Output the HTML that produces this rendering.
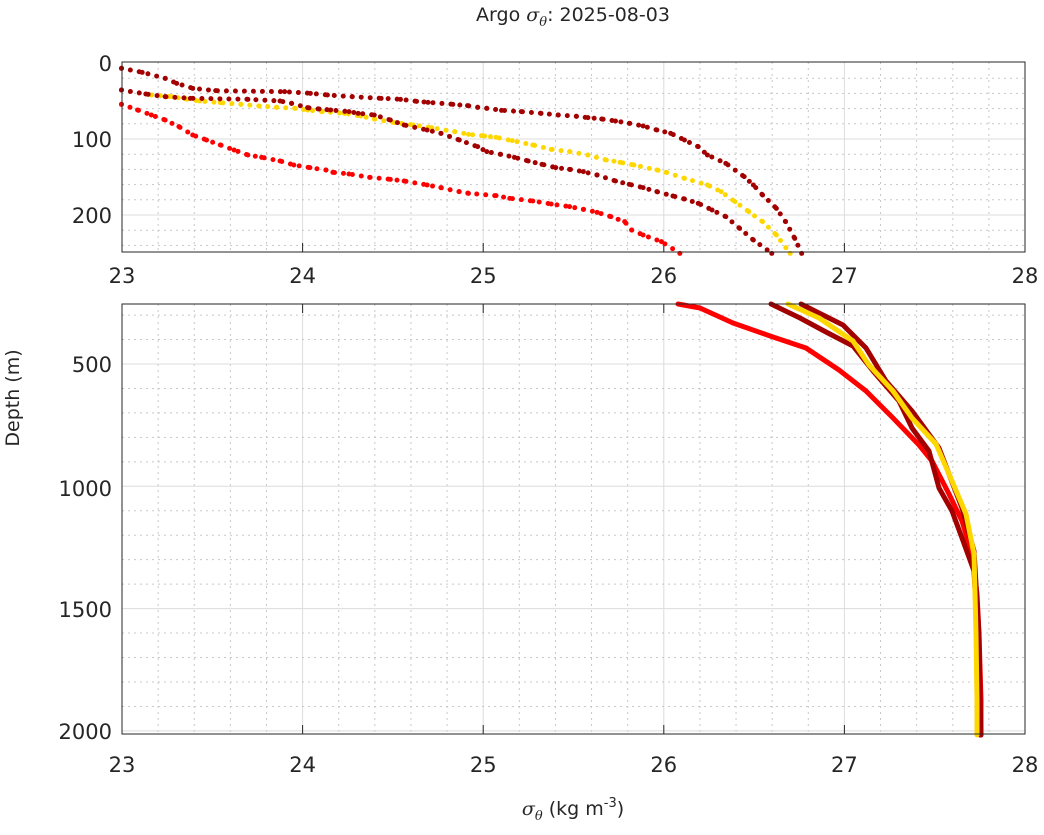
<!DOCTYPE html>
<html><head><meta charset="utf-8"><style>
html,body{margin:0;padding:0;background:#fff;}
svg{display:block;font-family:"DejaVu Sans","Liberation Sans",sans-serif;}
</style></head><body>
<svg id="s" width="1044" height="835" xmlns="http://www.w3.org/2000/svg">
<rect width="1044" height="835" fill="#fff"/>
<g id="grid"></g>
<g id="data"></g>
<rect x="122" y="62" width="903" height="190" fill="none" stroke="#262626" stroke-width="1"/>
<rect x="122" y="304" width="903" height="430" fill="none" stroke="#262626" stroke-width="1"/>
<g id="lab" fill="#262626" font-size="21"></g>
<text x="573" y="21" text-anchor="middle" font-size="19" fill="#262626">Argo <tspan font-family="DejaVu Serif,serif" font-style="italic">σ<tspan font-size="13" dy="5">θ</tspan></tspan><tspan dy="-5">: 2025-08-03</tspan></text>
<text transform="translate(19,398) rotate(-90)" text-anchor="middle" font-size="19" fill="#262626">Depth (m)</text>
<text x="573" y="815" text-anchor="middle" font-size="19" fill="#262626"><tspan font-family="DejaVu Serif,serif" font-style="italic">σ<tspan font-size="13" dy="5">θ</tspan></tspan><tspan dy="-5"> (kg m</tspan><tspan font-size="13" dy="-8">-3</tspan><tspan dy="8">)</tspan></text>
</svg>
<script>
var NS="http://www.w3.org/2000/svg";
function el(p,t,a){var e=document.createElementNS(NS,t);for(var k in a)e.setAttribute(k,a[k]);p.appendChild(e);return e;}
var g=document.getElementById('grid'),d=document.getElementById('data'),lab=document.getElementById('lab');
function X(v){return 122+(v-23)*180.6;}
for(var v=23;v<=28.001;v+=0.2){var x=X(v);var maj=Math.abs(v-Math.round(v))<1e-6;
 el(g,'line',{x1:x,x2:x,y1:62,y2:252,stroke:maj?'#dcdcdc':'#c8c8c8','stroke-width':1,'stroke-dasharray':maj?'':'2 4'});
 el(g,'line',{x1:x,x2:x,y1:304,y2:734,stroke:maj?'#dcdcdc':'#c8c8c8','stroke-width':1,'stroke-dasharray':maj?'':'2 4'});}
function YT(z){return 63+z*0.76;}
for(var z=20;z<250;z+=20){var y=YT(z);var maj=z%100==0;el(g,'line',{x1:122,x2:1025,y1:y,y2:y,stroke:maj?'#dcdcdc':'#c8c8c8','stroke-dasharray':maj?'':'2 4'});}
function YB(z){return 364+(z-500)*0.2446;}
for(var z=300;z<=2000;z+=100){var y=YB(z);var maj=z%500==0;el(g,'line',{x1:122,x2:1025,y1:y,y2:y,stroke:maj?'#dcdcdc':'#c8c8c8','stroke-dasharray':maj?'':'2 4'});}
for(var v=23;v<=28;v++){var t=el(lab,'text',{x:X(v),y:283,'text-anchor':'middle'});t.textContent=v;
 t=el(lab,'text',{x:X(v),y:772,'text-anchor':'middle'});t.textContent=v;}
[[0,63],[100,139],[200,215]].forEach(function(a){var t=el(lab,'text',{x:112,y:a[1]+8,'text-anchor':'end'});t.textContent=a[0];});
[[500,364],[1000,488],[1500,609],[2000,731]].forEach(function(a){var t=el(lab,'text',{x:112,y:a[1]+8,'text-anchor':'end'});t.textContent=a[0];});
for(var v=23;v<=28;v++){el(g,'line',{x1:X(v),x2:X(v),y1:252,y2:243,stroke:'#262626'});el(g,'line',{x1:X(v),x2:X(v),y1:734,y2:725,stroke:'#262626'});
 el(g,'line',{x1:X(v),x2:X(v),y1:304,y2:313,stroke:'#262626'});}
var DR='#a30000',R='#ff0000',Y='#ffd700';
function conv(a){return a.map(function(p){return [110+p[0]/2.176,55+p[1]/3];});}
var A=[[25,40],[70,52],[120,70],[145,85],[180,100],[230,107],[380,110],[436,115],[473,120],[527,125],[590,130],[632,133],[667,139],[692,142],[746,148],[778,152],[800,157],[820,160],[852,166],[895,170],[938,175],[975,180],[1015,184],[1040,188],[1070,192],[1100,198],[1130,205],[1160,213],[1190,225],[1220,235],[1250,255],[1280,275],[1300,300],[1340,325],[1380,365],[1400,390],[1420,420],[1450,460],[1470,500],[1490,550],[1505,595]];
var B=[[25,105],[78,117],[120,125],[175,130],[300,133],[370,138],[395,145],[430,158],[455,162],[480,165],[520,170],[540,175],[575,180],[610,195],[640,210],[690,225],[720,235],[760,255],[800,275],[820,290],[850,298],[880,307],[910,318],[940,328],[970,338],[1000,343],[1030,350],[1060,360],[1100,378],[1130,388],[1160,398],[1190,410],[1225,423],[1250,432],[1280,445],[1310,465],[1340,485],[1370,520],[1400,555],[1440,595]];
var Yw=[[90,120],[135,125],[165,132],[195,138],[240,143],[285,148],[325,153],[362,157],[403,160],[430,165],[462,170],[510,175],[545,183],[575,192],[620,203],[660,210],[700,218],[750,230],[780,238],[815,243],[840,247],[875,257],[920,270],[960,283],[1000,290],[1040,300],[1080,315],[1110,322],[1140,330],[1190,345],[1210,352],[1250,370],[1300,390],[1330,410],[1360,440],[1390,470],[1420,500],[1450,540],[1480,595]];
var Rr=[[25,148],[60,165],[90,180],[120,195],[150,215],[180,240],[210,255],[240,270],[270,285],[300,300],[330,307],[370,318],[400,330],[435,338],[470,345],[485,352],[520,357],[565,367],[610,373],[640,378],[690,390],[720,398],[760,410],[780,415],[840,422],[870,430],[920,438],[960,447],[1000,455],[1030,463],[1060,472],[1090,485],[1120,500],[1135,525],[1160,540],[1200,560],[1240,595]];
function pts(a){return a.map(function(p){return p[0].toFixed(1)+','+p[1].toFixed(1);}).join(' ');}
[[Rr,R],[Yw,Y],[B,DR],[A,DR]].forEach(function(s){
 var c=conv(s[0]);
 el(d,'polyline',{points:pts(c),fill:'none',stroke:s[1],'stroke-width':5,'stroke-linecap':'round','stroke-dasharray':'0 9'});
 c.forEach(function(p){el(d,'circle',{cx:p[0],cy:p[1],r:2.5,fill:s[1]});});
});
var bR=[[678,304],[700,308],[733,323],[773,337],[806,348],[839,370],[866,391],[893,418],[919,445],[932,461],[949,494],[962,521],[972,554],[977,594],[979,634],[981,700],[981,735]];
var bB=[[771,304],[800,318],[826,332],[853,346],[873,371],[899,401],[912,428],[929,451],[939,488],[952,511],[962,538],[974,571],[977,627],[979,700],[980,735]];
var bA=[[801,304],[843,325],[866,348],[886,381],[912,411],[939,448],[962,508],[974,551],[979,634],[980,700],[981,735]];
var bY=[[788,304],[819,318],[853,341],[869,365],[893,391],[912,418],[936,444],[952,481],[966,514],[974,554],[976,634],[977,700],[977,735]];
[[bR,R],[bB,DR],[bA,DR],[bY,Y]].forEach(function(s){el(d,'polyline',{points:pts(s[0]),fill:'none',stroke:s[1],'stroke-width':5,'stroke-linejoin':'round','stroke-linecap':'round'});});
</script>
</body></html>
